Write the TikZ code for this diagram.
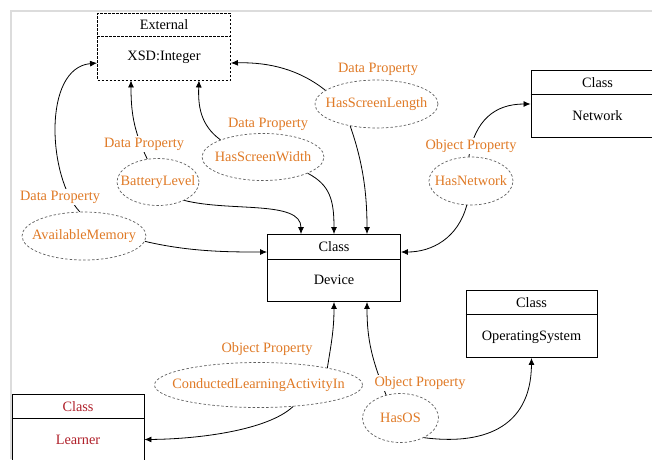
\documentclass[tikz,border=0pt]{standalone}
\usepackage{fontspec}
\setmainfont{Liberation Serif}
\usetikzlibrary{shapes.geometric,arrows.meta}

\definecolor{propcol}{HTML}{E07A26}
\definecolor{learnercol}{HTML}{B0202A}
\definecolor{framecol}{HTML}{DCDCDC}
\definecolor{ovalcol}{HTML}{606060}

\newcommand{\ovaltext}[1]{\makebox[0pt]{#1}}

\tikzset{
  every node/.style={font=\rmfamily\fontsize{14.3}{16}\selectfont, inner sep=0pt},
  classbox/.style={draw=black, line width=0.9pt, minimum width=133pt, minimum height=67pt},
  extbox/.style={classbox, dashed, dash pattern=on 2.5pt off 1.5pt},
  divider/.style={draw=black, line width=0.9pt},
  extdivider/.style={divider, dash pattern=on 2.5pt off 1.5pt},
  prop/.style={ellipse, draw=ovalcol, line width=0.7pt, dash pattern=on 2.5pt off 2pt, text=propcol},
  kind/.style={text=propcol, fill=white, inner sep=1.5pt},
  link/.style={draw=black, line width=0.8pt, -{Latex[length=7pt,width=6pt]}},
}

\begin{document}
\begin{tikzpicture}[x=1pt,y=-1pt]
\clip (0,0) rectangle (652,459);
\fill[white] (0,0) rectangle (652,459);

% light window frame
\draw[framecol, line width=1.5pt] (10,11) -- (652,11);
\draw[framecol, line width=1.5pt] (11,11) -- (11,459);

% ---- class boxes ----
\node[extbox] (external) at (164,46.5) {};
\draw[extdivider] ([yshift=-24pt]external.north west) -- ([yshift=-24pt]external.north east);
\node (external-h) at ([yshift=-12pt]external.north) {External};
\node (external-b) at ([yshift=-45pt]external.north) {XSD:Integer};

\node[classbox] (device) at (334,268) {};
\draw[divider] ([yshift=-25pt]device.north west) -- ([yshift=-25pt]device.north east);
\node (device-h) at ([yshift=-13pt]device.north) {Class};
\node (device-b) at ([yshift=-46pt]device.north) {Device};

\node[classbox] (network) at (597.5,104) {};
\draw[divider] ([yshift=-24pt]network.north west) -- ([yshift=-24pt]network.north east);
\node (network-h) at ([yshift=-12.5pt]network.north) {Class};
\node (network-b) at ([yshift=-46pt]network.north) {Network};

\node[classbox, minimum width=131pt] (os) at (531.5,324) {};
\draw[divider] ([yshift=-24pt]os.north west) -- ([yshift=-24pt]os.north east);
\node (os-h) at ([yshift=-12.5pt]os.north) {Class};
\node (os-b) at ([yshift=-47pt]os.north) {OperatingSystem};

\node[classbox, minimum width=132pt] (learner) at (78,427.5) {};
\draw[divider] ([yshift=-25pt]learner.north west) -- ([yshift=-25pt]learner.north east);
\node[text=learnercol] (learner-h) at ([yshift=-13pt]learner.north) {Class};
\node[text=learnercol] (learner-b) at ([yshift=-46pt]learner.north) {Learner};

% ---- property ovals ----
\node[prop, minimum width=124pt, minimum height=48pt] (avail) at (84,236) {\ovaltext{AvailableMemory}};
\node[prop, minimum width=82pt, minimum height=47pt] (battery) at (158,182) {\ovaltext{BatteryLevel}};
\node[prop, minimum width=122pt, minimum height=47pt] (swidth) at (263,157) {\ovaltext{HasScreenWidth}};
\node[prop, minimum width=123pt, minimum height=48pt] (slength) at (376.5,104) {\ovaltext{HasScreenLength}};
\node[prop, minimum width=84pt, minimum height=48pt] (hasnet) at (471,181) {\ovaltext{HasNetwork}};
\node[prop, minimum width=208pt, minimum height=45pt] (conducted) at (258.5,385) {\ovaltext{ConductedLearningActivityIn}};
\node[prop, minimum width=76pt, minimum height=49pt] (hasos) at (400.5,418) {\ovaltext{HasOS}};

% ---- connectors ----
\draw[link] (avail.100) .. controls (48,178) and (42,68) .. ([yshift=-16.5pt]external.west);
\draw[link] (battery.115) .. controls (133,130) and (131,110) .. ([xshift=-33pt]external.south);
\draw[link] (swidth.158) .. controls (200,125) and (198,105) .. ([xshift=35pt]external.south);
\draw[link] (slength.165) .. controls (300,70) and (270,62) .. ([yshift=-16.5pt]external.east);

\draw[link] (battery.-35) .. controls (230,212) and (301,200) .. ([xshift=-33pt]device.north);
\draw[link] (avail.-5) .. controls (190,252) and (230,252) .. ([yshift=16pt]device.west);
\draw[link] (swidth.-20) .. controls (330,185) and (334,200) .. (device.north);
\draw[link] (slength.-140) .. controls (362,160) and (367,190) .. ([xshift=33pt]device.north);

\draw[link] (hasnet.95) .. controls (475,120) and (495,104) .. (network.west);
\draw[link] (hasnet.-100) .. controls (458,238) and (432,252) .. ([yshift=16pt]device.east);

\draw[link] (conducted.14) .. controls (331,345) and (334,330) .. (device.south);
\draw[link] (hasos.122) .. controls (372,360) and (367,340) .. ([xshift=33pt]device.south);
\draw[link] (hasos.-40) .. controls (480,445) and (531,430) .. (os.south);
\draw[link] (conducted.-32) .. controls (268,430) and (200,439) .. ([yshift=-12pt]learner.east);

% ---- property kind labels ----
\node[kind] (avail-k) at (60,197) {Data Property};
\node[kind] (battery-k) at (144,144) {Data Property};
\node[kind] (swidth-k) at (268,124) {Data Property};
\node[kind] (slength-k) at (378,69) {Data Property};
\node[kind] (hasnet-k) at (471,146) {Object Property};
\node[kind] (conducted-k) at (267,349) {Object Property};
\node[kind] (hasos-k) at (420,383) {Object Property};
\end{tikzpicture}
\end{document}
